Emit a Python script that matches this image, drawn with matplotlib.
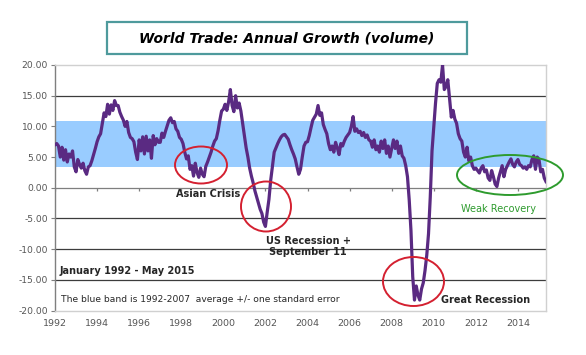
import numpy as np
import matplotlib
matplotlib.use("Agg")
import matplotlib.pyplot as plt
from matplotlib.patches import Ellipse, Rectangle

# ---------------- data (monthly annual growth of world trade volume, %) ----------------
y1992 = [7.0, 7.2, 6.8, 5.0, 6.6, 4.5, 6.2, 4.2, 5.5, 5.0, 6.0, 3.4]
y1993 = [2.6, 4.6, 3.8, 3.2, 4.0, 2.8, 2.2, 3.4, 3.6, 4.4, 5.4, 6.4]
y1994 = [7.5, 8.3, 8.8, 10.5, 12.2, 11.6, 13.6, 12.0, 13.5, 12.6, 14.2, 13.4]
y1995 = [13.4, 12.3, 11.6, 11.0, 10.0, 10.8, 9.0, 8.2, 8.0, 7.5, 5.8, 4.6]
y1996 = [7.8, 6.0, 8.3, 5.5, 8.4, 6.0, 7.8, 4.8, 8.5, 7.0, 8.0, 7.4]
y1997 = [7.4, 8.9, 8.2, 9.2, 10.1, 11.0, 11.4, 10.6, 10.8, 9.6, 9.2, 8.2]
y1998 = [7.9, 7.2, 5.8, 4.7, 5.2, 3.0, 3.6, 1.9, 4.0, 2.5, 1.7, 3.2]
y1999 = [2.2, 1.8, 3.5, 4.2, 5.0, 5.8, 6.8, 7.6, 8.0, 9.3, 11.0, 12.5]
y2000 = [12.8, 13.6, 12.6, 14.0, 16.0, 13.4, 12.4, 15.0, 13.0, 13.8, 12.5, 10.5]
y2001 = [8.5, 6.5, 5.0, 3.2, 1.9, 0.8, -0.5, -1.5, -2.5, -3.5, -4.2, -5.6]
y2002 = [-6.3, -4.0, -1.9, 1.2, 3.5, 5.8, 6.5, 7.2, 7.8, 8.3, 8.6, 8.7]
y2003 = [8.3, 7.9, 7.0, 6.2, 5.5, 4.7, 3.4, 2.2, 3.0, 5.0, 6.8, 7.4]
y2004 = [7.5, 8.5, 9.8, 11.0, 11.5, 12.0, 13.4, 11.8, 12.2, 10.3, 9.5, 8.8]
y2005 = [7.2, 6.2, 6.8, 5.8, 7.4, 6.5, 5.4, 7.2, 6.8, 7.6, 8.2, 8.6]
y2006 = [9.0, 10.0, 11.6, 9.2, 9.6, 9.0, 9.2, 8.5, 9.0, 8.2, 8.6, 7.8]
y2007 = [7.6, 6.6, 7.8, 6.2, 6.8, 5.8, 7.6, 6.4, 7.8, 5.6, 6.8, 5.0]
y2008 = [6.4, 7.8, 6.4, 7.6, 5.6, 6.8, 5.2, 4.8, 3.6, 1.8, -2.0, -7.0]
y2009 = [-14.5, -18.3, -16.0, -17.5, -18.3, -16.5, -15.5, -13.5, -11.0, -7.5, -1.5, 6.0]
y2010 = [10.0, 13.8, 17.0, 17.6, 17.2, 20.0, 16.0, 16.5, 17.6, 14.5, 11.5, 12.6]
y2011 = [11.2, 10.5, 8.8, 8.0, 7.6, 5.8, 5.0, 6.6, 4.4, 5.0, 3.6, 3.0]
y2012 = [3.2, 2.8, 2.4, 3.2, 3.6, 2.6, 2.9, 1.6, 1.2, 2.8, 1.8, 0.6]
y2013 = [0.2, 1.6, 2.6, 3.6, 1.8, 3.0, 3.6, 4.2, 4.7, 3.8, 3.4, 4.2]
y2014 = [4.6, 3.8, 3.6, 3.2, 3.4, 3.0, 3.6, 3.4, 4.6, 5.2, 3.0, 5.0]
y2015 = [4.6, 2.6, 3.0, 1.6, 1.0]

start_year = 1992
band_low = 3.3      # 1992-2007 average - one standard error
band_high = 10.8    # 1992-2007 average + one standard error

year_ticks = [1992, 1994, 1996, 1998, 2000, 2002, 2004, 2006, 2008, 2010, 2012, 2014]
value_ticks = [-20, -15, -10, -5, 0, 5, 10, 15, 20]

title = "World Trade: Annual Growth (volume)"
period_note = "January 1992 - May 2015"
band_note = "The blue band is 1992-2007  average +/- one standard error"

growth = np.array(y1992 + y1993 + y1994 + y1995 + y1996 + y1997 + y1998 + y1999 +
                  y2000 + y2001 + y2002 + y2003 + y2004 + y2005 + y2006 + y2007 +
                  y2008 + y2009 + y2010 + y2011 + y2012 + y2013 + y2014 + y2015)
t = start_year + np.arange(len(growth)) / 12.0

# ---------------- figure ----------------
W, H = 586, 355
fig = plt.figure(figsize=(W / 100, H / 100), dpi=100)
fig.patch.set_facecolor("white")

def fx(px):
    return px / W

def fy(py):
    return 1 - py / H

ax = fig.add_axes([fx(55), fy(310.5), fx(546) - fx(55), fy(65) - fy(310.5)])
ax.set_xlim(t[0], t[-1])
ax.set_ylim(-20, 20)

# gridlines (drawn under the band)
for v in value_ticks:
    if v in (-20, 20):
        continue
    ax.axhline(v, color="#3c3c3c" if v != 0 else "#7f7f7f", lw=0.9, zorder=0.5)

ax.axhspan(band_low, band_high, color="#99CCFF", lw=0, zorder=1)
ax.plot(t, growth, color="#5A2A82", lw=2.3, solid_joinstyle="round", zorder=3)

# x-axis tick marks on the zero line
ax.vlines(year_ticks, -0.6, 0, color="#7f7f7f", lw=0.9, zorder=2)

ax.set_xticks(year_ticks)
ax.set_xticklabels([str(y) for y in year_ticks])
ax.tick_params(axis="x", length=0, pad=6, labelsize=6.8, labelcolor="#555555")
ax.set_yticks(value_ticks)
ax.set_yticklabels([f"{v:.2f}" for v in value_ticks])
ax.tick_params(axis="y", length=3, width=0.8, color="#7f7f7f", pad=2,
               labelsize=6.6, labelcolor="#555555")

for side in ("top", "right", "bottom"):
    ax.spines[side].set_color("#d0d0d0")
    ax.spines[side].set_linewidth(1.0)
ax.spines["left"].set_color("#7f7f7f")
ax.spines["left"].set_linewidth(1.0)

# ---------------- title box ----------------
fig.patches.append(Rectangle((fx(107), fy(53.5)), fx(467) - fx(107), fy(22) - fy(53.5),
                             transform=fig.transFigure, facecolor="white",
                             edgecolor="#4E9A9C", lw=1.6))
fig.text(fx(287), fy(38), title, ha="center", va="center", fontsize=10,
         fontweight="bold", fontstyle="italic", color="black")

# ---------------- annotations ----------------
def ellipse(cx, cy, w, h, color):
    fig.patches.append(Ellipse((fx(cx), fy(cy)), w / W, h / H, transform=fig.transFigure,
                               fill=False, edgecolor=color, lw=1.4, zorder=5))

ellipse(201, 165, 52, 37, "#D42030")
ellipse(266, 206.5, 50, 50, "#D42030")
ellipse(413.5, 281.5, 61, 49, "#D42030")
ellipse(510, 175, 106, 40, "#2E9B2E")

lab = dict(fontsize=7, fontweight="bold", color="#262626", ha="center", va="center")
fig.text(fx(208), fy(193.5), "Asian Crisis", **lab)
fig.text(fx(308), fy(246.5), "US Recession +\nSeptember 11", linespacing=1.15, **lab)
fig.text(fx(486), fy(300), "Great Recession", **lab)
fig.text(fx(498.5), fy(209.5), "Weak Recovery", fontsize=7, color="#2E9B2E",
         ha="center", va="center")
fig.text(fx(60), fy(271), period_note, fontsize=7, fontweight="bold", color="#262626",
         ha="left", va="center")
fig.text(fx(61), fy(299), band_note, fontsize=6.6, color="#262626", ha="left", va="center")

fig.savefig("out.png", dpi=100, facecolor="white")
